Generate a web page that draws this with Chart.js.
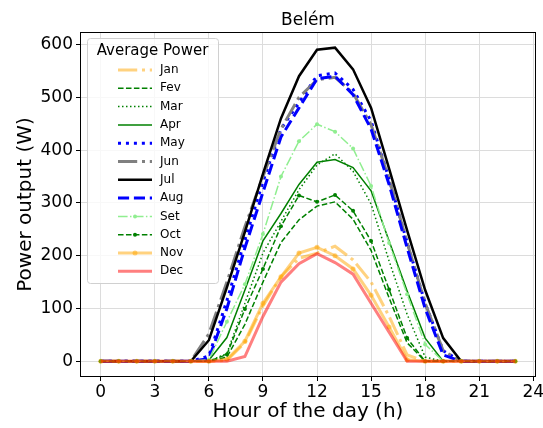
<!DOCTYPE html>
<html>
<head>
<meta charset="utf-8">
<script src="https://cdn.jsdelivr.net/npm/chart.js@4/dist/chart.umd.min.js"></script>
<style>
  html, body { margin: 0; padding: 0; background: #fff; }
</style>
</head>
<body>
<canvas id="chart" width="543" height="428"></canvas>
<script>
// hour of the day
const hours = [0,1,2,3,4,5,6,7,8,9,10,11,12,13,14,15,16,17,18,19,20,21,22,23];
const monthNames = ["Jan","Fev","Mar","Apr","May","Jun","Jul","Aug","Set","Oct","Nov","Dec"];
const xTicks = [0,3,6,9,12,15,18,21,24];
const yTicks = [0,100,200,300,400,500,600];

// average power output per hour (W)
const jan = [0,0,0,0,0,0,0,2,35,105,160,195,205,218,192,150,85,12,0,0,0,0,0,0];
const fev = [0,0,0,0,0,0,0,8,70,150,225,268,294,302,269,210,120,35,0,0,0,0,0,0];
const mar = [0,0,0,0,0,0,0,15,110,205,265,325,372,393,360,298,190,89,8,0,0,0,0,0];
const apr = [0,0,0,0,0,0,2,45,135,228,280,335,377,382,367,323,228,133,44,0,0,0,0,0];
const may = [0,0,0,0,0,0,10,115,230,340,440,490,541,546,515,455,345,225,110,20,0,0,0,0];
const jun = [0,0,0,0,0,0,52,150,255,350,440,500,533,538,508,448,345,225,110,20,0,0,0,0];
const jul = [0,0,0,0,0,0,40,140,245,355,460,540,590,594,553,480,365,248,135,44,0,0,0,0];
const aug = [0,0,0,0,0,0,5,100,215,320,425,480,535,540,505,440,335,215,100,12,0,0,0,0];
const set = [0,0,0,0,0,0,3,75,146,241,350,417,449,435,403,332,224,127,32,0,0,0,0,0];
const oct = [0,0,0,0,0,0,0,13,99,175,256,314,302,315,285,228,136,44,0,0,0,0,0,0];
const nov = [0,0,0,0,0,0,0,4,38,110,160,205,216,200,175,125,65,3,0,0,0,0,0,0];
const dec = [0,0,0,0,0,0,0,0,9,85,150,185,204,187,165,110,55,0,0,0,0,0,0,0];

const series = [jan, fev, mar, apr, may, jun, jul, aug, set, oct, nov, dec];

// line styles, matplotlib-like
const styles = [
  { color: "rgba(255,165,0,0.5)", width: 3,   dash: [19.2,4.8,3,4.8] },
  { color: "#008000",             width: 1.5, dash: [5.55,2.4] },
  { color: "#008000",             width: 1.5, dash: [1.5,2.5] },
  { color: "#008000",             width: 1.5, dash: [] },
  { color: "#0000ff",             width: 3,   dash: [3,4.95] },
  { color: "#808080",             width: 3,   dash: [19.2,4.8,3,4.8] },
  { color: "#000000",             width: 2.5, dash: [] },
  { color: "#0000ff",             width: 3,   dash: [11.1,4.8] },
  { color: "#90ee90",             width: 1.5, dash: [9.6,2.4,1.5,2.4], marker: 2 },
  { color: "#008000",             width: 1.5, dash: [5.55,2.4], marker: 2 },
  { color: "rgba(255,165,0,0.5)", width: 3,   dash: [], marker: 2.5 },
  { color: "rgba(255,0,0,0.5)",   width: 3,   dash: [] },
];

const datasets = series.map((vals, i) => ({
  label: monthNames[i],
  data: hours.map((h, j) => ({ x: h, y: vals[j] })),
  borderColor: styles[i].color,
  backgroundColor: styles[i].color,
  borderWidth: styles[i].width,
  borderDash: styles[i].dash,
  pointRadius: styles[i].marker || 0,
  pointBackgroundColor: styles[i].color,
  pointBorderWidth: 0,
  tension: 0,
  fill: false,
  order: series.length - i,
}));

const font = '"DejaVu Sans", sans-serif';

const frameAndLegend = {
  id: "frameAndLegend",
  afterDraw(chart) {
    const ctx = chart.ctx;
    const a = chart.chartArea;
    ctx.save();
    // axes frame
    ctx.strokeStyle = "#000";
    ctx.lineWidth = 1;
    ctx.strokeRect(Math.round(a.left) + 0.5, Math.round(a.top) + 0.5,
                   Math.round(a.right - a.left) - 1, Math.round(a.bottom - a.top) - 1);

    // title
    ctx.fillStyle = "#000";
    ctx.font = "17px " + font;
    ctx.textAlign = "center";
    ctx.textBaseline = "middle";
    ctx.fillText("Belém", (a.left + a.right) / 2, 21);

    // legend box
    const lx = 87, ly = 38, lw = 131, lh = 245;
    ctx.fillStyle = "rgba(255,255,255,0.8)";
    ctx.strokeStyle = "#d0d0d0";
    ctx.beginPath();
    ctx.roundRect(lx + 0.5, ly + 0.5, lw, lh, 3);
    ctx.fill();
    ctx.stroke();
    ctx.fillStyle = "#000";
    ctx.font = "15px " + font;
    ctx.fillText("Average Power", lx + lw / 2, 51);

    chart.data.datasets.forEach((ds, i) => {
      const y = 70 + i * 18.3;
      ctx.strokeStyle = ds.borderColor;
      ctx.lineWidth = ds.borderWidth;
      ctx.setLineDash(ds.borderDash);
      ctx.beginPath();
      ctx.moveTo(118, y);
      ctx.lineTo(152, y);
      ctx.stroke();
      ctx.setLineDash([]);
      if (ds.pointRadius > 0) {
        ctx.fillStyle = ds.pointBackgroundColor;
        ctx.beginPath();
        ctx.arc(135, y, ds.pointRadius, 0, Math.PI * 2);
        ctx.fill();
      }
      ctx.fillStyle = "#000";
      ctx.font = "12px " + font;
      ctx.textAlign = "left";
      ctx.fillText(ds.label, 160, y);
    });
    ctx.restore();
  }
};

new Chart(document.getElementById("chart"), {
  type: "line",
  data: { datasets },
  options: {
    responsive: false,
    animation: false,
    layout: { padding: { left: 0, top: 32, right: 7, bottom: 0 } },
    plugins: { legend: { display: false }, tooltip: { enabled: false } },
    scales: {
      x: {
        type: "linear",
        min: -1.15,
        max: 24.15,
        afterBuildTicks: (s) => { s.ticks = xTicks.map(v => ({ value: v })); },
        afterFit: (s) => { s.height = 51; s.paddingLeft = 0; s.paddingRight = 0; },
        grid: { color: "#dcdcdc", tickColor: "#000", tickLength: 4, lineWidth: 1 },
        border: { display: false },
        ticks: { color: "#000", font: { family: font, size: 17 }, padding: 1, maxRotation: 0 },
        title: { display: true, text: "Hour of the day (h)", color: "#000",
                 font: { family: font, size: 20 }, padding: { top: 0, bottom: 4 } },
      },
      y: {
        type: "linear",
        min: -29.7,
        max: 623.7,
        afterBuildTicks: (s) => { s.ticks = yTicks.map(v => ({ value: v })); },
        afterFit: (s) => { s.width = 80; s.paddingTop = 0; s.paddingBottom = 0; },
        grid: { color: "#dcdcdc", tickColor: "#000", tickLength: 4, lineWidth: 1 },
        border: { display: false },
        ticks: { color: "#000", font: { family: font, size: 17 }, padding: 3 },
        title: { display: true, text: "Power output (W)", color: "#000",
                 font: { family: font, size: 20 }, padding: { top: 14, bottom: 0 } },
      },
    },
  },
  plugins: [frameAndLegend],
});
</script>
</body>
</html>
